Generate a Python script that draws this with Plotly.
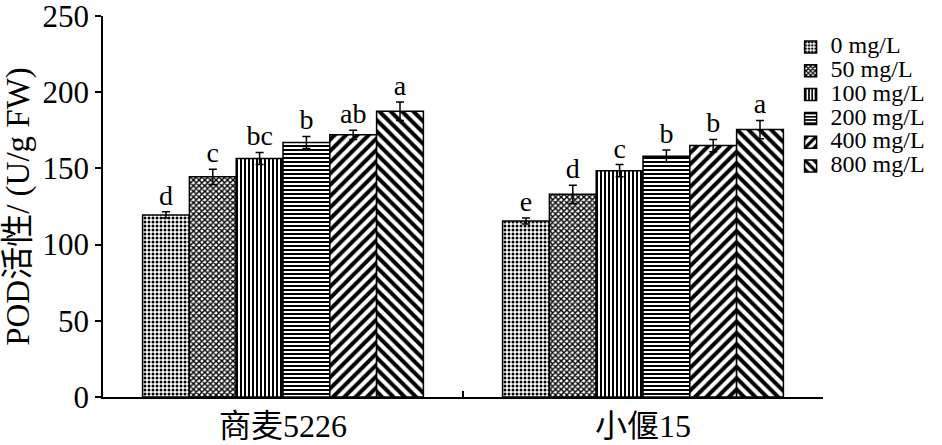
import plotly.graph_objects as go

categories = ["商麦5226", "小偃15"]
series_names = ["0 mg/L", "50 mg/L", "100 mg/L", "200 mg/L", "400 mg/L", "800 mg/L"]
values = [
    [119.5, 115.5],
    [144.5, 133.0],
    [156.5, 148.5],
    [167.0, 158.0],
    [172.0, 165.0],
    [187.5, 175.5],
]
errors = [
    [2, 2],
    [5, 6],
    [4, 4],
    [4, 4],
    [3, 4],
    [6, 6],
]
letters = [
    ["d", "e"],
    ["c", "d"],
    ["bc", "c"],
    ["b", "b"],
    ["ab", "b"],
    ["a", "a"],
]
patterns = [
    dict(shape=".", size=4, solidity=0.45),
    dict(shape="x", size=4, solidity=0.6),
    dict(shape="|", size=4, solidity=0.5),
    dict(shape="-", size=4, solidity=0.5),
    dict(shape="/", size=8, solidity=0.5),
    dict(shape="\\", size=8, solidity=0.5),
]

FONT = "Liberation Serif, Times New Roman, Noto Sans CJK SC, serif"

fig = go.Figure()
for i, name in enumerate(series_names):
    p = patterns[i]
    fig.add_trace(go.Bar(
        x=categories, y=values[i],
        name='<span style="font-size:24px">' + name + '</span>',
        offsetgroup=str(i), alignmentgroup="g",
        marker=dict(color="white", line=dict(color="black", width=1.5),
                    pattern=dict(shape=p["shape"], size=p["size"], solidity=p["solidity"],
                                 fgcolor="black", bgcolor="white", fillmode="replace")),
        error_y=dict(type="data", array=errors[i], color="black", thickness=1.5, width=4),
    ))
for i, name in enumerate(series_names):
    fig.add_trace(go.Scatter(
        x=categories, y=[v + e for v, e in zip(values[i], errors[i])],
        text=letters[i], mode="text", textposition="top center",
        textfont=dict(family=FONT, size=28, color="black"),
        offsetgroup=str(i), alignmentgroup="g", showlegend=False, hoverinfo="skip",
    ))

fig.update_layout(
    width=942, height=445,
    margin=dict(l=103, r=119, t=16, b=48, autoexpand=False),
    paper_bgcolor="white", plot_bgcolor="white",
    barmode="group", bargap=0.22, bargroupgap=0,
    scattermode="group", scattergap=0.22,
    font=dict(family=FONT, color="black", size=24),
    legend=dict(x=0.955, y=0.963, xanchor="left", yanchor="top",
                font=dict(family=FONT, size=16), bgcolor="rgba(0,0,0,0)",
                itemwidth=30, tracegroupgap=0),
    showlegend=True,
)
fig.update_xaxes(
    showline=True, linecolor="black", linewidth=1.5,
    ticks="inside", tickson="boundaries", ticklen=6, tickcolor="black", tickwidth=1.5,
    tickfont=dict(family=FONT, size=32), showgrid=False,
)
fig.update_yaxes(
    range=[0, 250], tickvals=[0, 50, 100, 150, 200, 250],
    showline=True, linecolor="black", linewidth=1.5,
    ticks="outside", ticklen=6, tickcolor="black", tickwidth=1.5,
    tickfont=dict(family=FONT, size=31), showgrid=False, zeroline=False,
    ticklabeloverflow="allow",
    title=dict(text="POD活性/ (U/g FW)", font=dict(family=FONT, size=33), standoff=9),
)

fig.write_html("out.html", config={"displayModeBar": False},
               post_script="document.body.style.margin='0px';")
